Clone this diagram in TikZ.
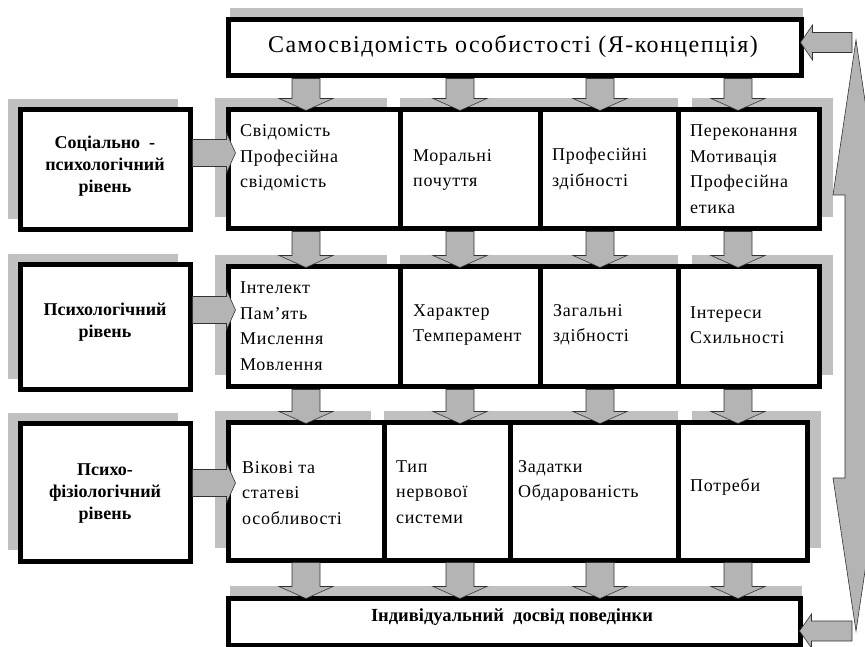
\documentclass[tikz,border=0pt]{standalone}
\usepackage{fontspec}
\setmainfont{Liberation Serif}
\newfontfamily\cellfont[LetterSpace=4]{Liberation Serif}
\newfontfamily\titlefont[LetterSpace=6]{Liberation Serif}
\usetikzlibrary{calc,shadows}
\definecolor{shadowgray}{RGB}{192,192,192}
\definecolor{arrowgray}{RGB}{180,180,180}

\begin{document}
\begin{tikzpicture}[x=1pt,y=1pt]
    \tikzstyle{box}=[draw=black, line width=5pt, fill=white, inner sep=0pt]
    \tikzstyle{level box}=[box, minimum width=170pt, drop shadow={shadow xshift=-12pt, shadow yshift=11pt, opacity=1, fill=shadowgray}]
    \tikzstyle{main box}=[box, drop shadow={shadow xshift=2pt, shadow yshift=12pt, opacity=1, fill=shadowgray}]
    \tikzstyle{cell}=[box, drop shadow={shadow xshift=0pt, shadow yshift=12pt, opacity=1, fill=shadowgray}]
    \tikzstyle{first cell}=[box, drop shadow={shadow xshift=-13pt, shadow yshift=12pt, opacity=1, fill=shadowgray}]
    \tikzstyle{last cell}=[box, drop shadow={shadow xshift=14pt, shadow yshift=12pt, opacity=1, fill=shadowgray}]
    \tikzstyle{block arrow}=[draw=black!80, line width=0.6pt, fill=arrowgray]
    \tikzstyle{annot}=[font=\cellfont\fontsize{18}{25.5}\selectfont, align=left, anchor=west, inner sep=0pt]
    \tikzstyle{level}=[font=\bfseries\fontsize{18}{22}\selectfont, align=center, inner sep=0pt]

    \useasboundingbox (0,0) rectangle (865,646);
    \clip (0,0) rectangle (865,646);

    % Draw the level boxes on the left
    \node[level box, minimum height=120pt] (lv1) at (105,476) {};
    \node[level box, minimum height=125pt] (lv2) at (105,318.5) {};
    \node[level box, minimum height=137pt] (lv3) at (105,153.5) {};

    % Top and bottom boxes
    \node[main box, minimum width=573pt, minimum height=56pt] (self) at (514.5,598) {};
    \node[main box, minimum width=572pt, minimum height=47.5pt] (exp) at (514,24.25) {};

    % Draw the cells of the three rows
    \node[first cell, minimum width=172pt, minimum height=119pt] (r1c1) at (314,476.5) {};
    \node[cell, minimum width=140pt, minimum height=119pt] (r1c2) at (470,476.5) {};
    \node[cell, minimum width=138pt, minimum height=119pt] (r1c3) at (609,476.5) {};
    \node[last cell, minimum width=141pt, minimum height=119pt] (r1c4) at (748.5,476.5) {};

    \node[first cell, minimum width=172pt, minimum height=120pt] (r2c1) at (314,319) {};
    \node[cell, minimum width=140pt, minimum height=120pt] (r2c2) at (470,319) {};
    \node[cell, minimum width=138pt, minimum height=120pt] (r2c3) at (609,319) {};
    \node[last cell, minimum width=141pt, minimum height=120pt] (r2c4) at (748.5,319) {};

    \node[first cell, minimum width=156pt, minimum height=137pt] (r3c1) at (306,154.5) {};
    \node[cell, minimum width=126pt, minimum height=137pt] (r3c2) at (447,154.5) {};
    \node[cell, minimum width=168pt, minimum height=137pt] (r3c3) at (594,154.5) {};
    \node[last cell, minimum width=129pt, minimum height=137pt] (r3c4) at (742.5,154.5) {};

    % Texts
    \node[font=\titlefont\fontsize{24}{28}\selectfont] (selftext) at (513,600) {Самосвідомість особистості (Я-концепція)};
    \node[font=\bfseries\fontsize{18.5}{22}\selectfont] (exptext) at (512,29) {Індивідуальний\ \ досвід поведінки};

    \node[level] (lv1text) at (105,480) {Соціально\ \ -\\психологічний\\рівень};
    \node[level] (lv2text) at (105,324) {Психологічний\\рівень};
    \node[level] (lv3text) at (105,152) {Психо-\\фізіологічний\\рівень};

    \node[annot] (t11) at (240,488) {Свідомість\\Професійна\\свідомість};
    \node[annot] (t12) at (413,476) {Моральні\\почуття};
    \node[annot] (t13) at (552,477) {Професійні\\здібності};
    \node[annot] (t14) at (690,477) {Переконання\\Мотивація\\Професійна\\етика};

    \node[annot] (t21) at (240,320) {Інтелект\\Пам’ять\\Мислення\\Мовлення};
    \node[annot] (t22) at (413,321) {Характер\\Темперамент};
    \node[annot] (t23) at (553,321) {Загальні\\здібності};
    \node[annot] (t24) at (690,321) {Інтереси\\Схильності};

    \node[annot] (t31) at (242,153) {Вікові та\\статеві\\особливості};
    \node[annot] (t32) at (396,154) {Тип\\нервової\\системи};
    \node[annot] (t33) at (518,165) {Задатки\\Обдарованість};
    \node[annot] (t34) at (690,159) {Потреби};

    % Arrows down between the rows
    \foreach \cx/\src/\dst in {306/self/r1c1, 460/self/r1c2, 600/self/r1c3, 738/self/r1c4,
        306/r1c1/r2c1, 460/r1c2/r2c2, 600/r1c3/r2c3, 738/r1c4/r2c4,
        306/r2c1/r3c1, 460/r2c2/r3c2, 600/r2c3/r3c3, 738/r2c4/r3c4,
        306/r3c1/exp, 460/r3c2/exp, 600/r3c3/exp, 738/r3c4/exp}
        \draw[block arrow] let \p1=(\src.south), \p2=(\dst.north) in
            (\cx pt-14pt,\y1) -- (\cx pt+14pt,\y1) -- (\cx pt+14pt,\y2+9pt) -- (\cx pt+27pt,\y2+9pt)
            -- (\cx pt,\y2-3pt) -- (\cx pt-27pt,\y2+9pt) -- (\cx pt-14pt,\y2+9pt) -- cycle;

    % Arrows from the levels
    \foreach \src/\dst/\cy in {lv1/r1c1/493, lv2/r2c1/336, lv3/r3c1/163}
        \draw[block arrow] let \p1=(\src.east), \p2=(\dst.west) in
            (\x1,\cy pt+13.5pt) -- (\x2+1pt,\cy pt+13.5pt) -- (\x2+1pt,\cy pt+20pt) -- (\x2+10pt,\cy pt)
            -- (\x2+1pt,\cy pt-20pt) -- (\x2+1pt,\cy pt-13.5pt) -- (\x1,\cy pt-13.5pt) -- cycle;

    % Feedback arrow on the right
    \coordinate (fb top) at (856,606);
    \coordinate (fb bot) at (856,15);
    \draw[block arrow] let \p1=(fb top), \p2=(fb bot) in
        (\x1,\y1) -- (\x1+23pt,\y1-155pt) -- (\x1+11pt,\y1-155pt) -- (\x2+11pt,\y2+153pt)
        -- (\x2+23pt,\y2+153pt) -- (\x2,\y2) -- (\x2-23pt,\y2+153pt) -- (\x2-11pt,\y2+153pt)
        -- (\x1-11pt,\y1-155pt) -- (\x1-23pt,\y1-155pt) -- cycle;
    \draw[block arrow] let \p1=(fb top), \p2=(self.east) in
        (\x1-4pt,\y1+7.5pt) -- (\x2+9pt,\y1+7.5pt) -- (\x2+9pt,\y1+15pt) -- (\x2-3pt,\y1-2.5pt)
        -- (\x2+9pt,\y1-20pt) -- (\x2+9pt,\y1-12.5pt) -- (\x1-4pt,\y1-12.5pt) -- cycle;
    \draw[block arrow] let \p1=(fb bot), \p2=(exp.east) in
        (\x1-4pt,\y1+10pt) -- (\x2+9pt,\y1+10pt) -- (\x2+9pt,\y1+17pt) -- (\x2-3pt,\y1)
        -- (\x2+9pt,\y1-17pt) -- (\x2+9pt,\y1-10pt) -- (\x1-4pt,\y1-10pt) -- cycle;
\end{tikzpicture}
\end{document}
